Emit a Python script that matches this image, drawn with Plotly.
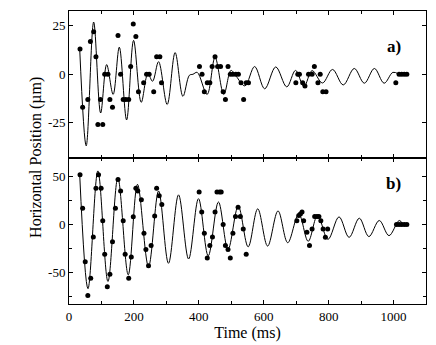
import plotly.graph_objects as go
from plotly.subplots import make_subplots

# panel a) measured horizontal positions (ms, um)
a_dots_t = [34, 42, 58, 66, 76, 83, 89, 97, 104, 110, 120, 126, 134, 151, 159, 167, 175, 184,
            190, 198, 206, 214, 230, 239, 247, 261, 270, 280, 285,
            402, 410, 417, 426, 434, 441, 450, 458, 467, 475, 482, 490, 497, 505, 514, 522,
            530, 538, 546, 553,
            699, 705, 710, 720, 727, 738, 749, 756, 767, 774, 782, 792,
            1007, 1017, 1025, 1033, 1041]
a_dots_y = [13, -17, -13, 17, 22, 9, -26, -13, -26, 0, 0, -13, -17, 20, 0, -13, -13, -13,
            4, 26, 19.5, -9, -4.4, 0, 0, -9, 9, 9, -4.4,
            4, 0, -9, -4.4, -4.4, 4, 9, 4, 4, -9, -13, 4, 0, 0, 0, 0,
            -4.4, -13, -4.4, -4.4,
            -4.4, 0, 0, -4.4, -6, 0, 0, 4, -4.4, 0, -9, -9,
            -4.4, 0, 0, 0, 0]

# panel a) fitted curve, turning points
a_fit_t = [33, 53, 76, 97.5, 116, 136, 155, 177.5, 199, 222.5, 243, 257.5, 276, 302.5, 327,
           351, 371, 382, 395, 425.5, 450, 477, 499, 515, 542, 572, 603, 637, 671, 698, 724,
           749, 781, 812, 845, 879, 910, 941, 971, 998, 1017]
a_fit_y = [13, -37, 27, -20, 5, -10.4, 14, -23.6, 17.5, -14.5, 0.3, -3.6, 6.5, -15.6, 11.2,
           -11.4, -0.5, 0, 1, -10.4, 8.7, -10.4, 2, -1, -6, 4, -7.5, 3.8, -6.5, 2, -6.3,
           1.9, -4.5, 2.5, -5.5, 3, -4.6, 3, -4.6, 1, 0]

# panel b) measured horizontal positions
b_dots_t = [34, 42, 50, 58, 67, 75, 83, 91, 99, 104, 110, 118, 126, 134, 143, 151, 159, 167,
            173, 184, 192, 198, 206, 212, 223, 231, 237, 245, 253, 264, 270, 278, 286,
            401, 409, 417, 426, 434, 442, 450, 456, 464, 469, 475, 482, 490, 497, 505, 513,
            521, 528, 537, 546,
            702, 708, 713, 718, 723, 733, 741, 749, 757, 764, 770, 776, 783, 790, 797,
            1009, 1017, 1025, 1033, 1041]
b_dots_y = [52, 17, -39, -74, -56, -13, 38, 52, 38, 4, -31, -65, -52, -18, 17, 47, 35, 4,
            -31, -56, -34, 8, 38, 35, 26, -9, -26, -43, -22, 9, 38, 30, 21,
            34, 13, -9, -35, -22, -13, 13, 34, 34, 34, 0, -22, -26, -35, -9, 8.5,
            18, 8.5, -4.6, -31,
            4, 9.5, 11, 13, 4, -8, -22, -4.6, 8.5, 8.5, 8.5, 4, -4.6, -13.4, -4.6,
            0, 0, 0, 0, 0]

# panel b) fitted curve, turning points
b_fit_t = [33, 58.5, 89, 120, 150.5, 182.5, 211, 245, 276, 306.5, 337.5, 368.5, 399, 429,
           460.5, 490, 521.5, 552, 581.5, 612, 644, 674, 708, 737, 766, 798, 832, 863,
           894.5, 924, 956, 986, 1017.5, 1030]
b_fit_y = [52, -67, 56, -59.5, 48.7, -52.5, 42, -44, 35, -40.5, 31, -36, 27, -32.7, 23.5,
           -26, 19, -23.3, 16.4, -22.5, 14.2, -19, 11, -17.5, 9.5, -15.5, 8, -13.4, 6.6,
           -12.6, 4.2, -11.6, 4.2, 0]

serif = "Liberation Serif"

fig = make_subplots(rows=2, cols=1, shared_xaxes=True, vertical_spacing=0)

for row, (ft, fy, dt, dy) in enumerate([(a_fit_t, a_fit_y, a_dots_t, a_dots_y),
                                         (b_fit_t, b_fit_y, b_dots_t, b_dots_y)], start=1):
    fig.add_trace(go.Scatter(x=ft, y=fy, mode="lines",
                             line=dict(color="black", width=1, shape="spline", smoothing=1.0)),
                  row=row, col=1)
    fig.add_trace(go.Scatter(x=dt, y=dy, mode="markers",
                             marker=dict(color="black", size=5)),
                  row=row, col=1)

axis_common = dict(showline=True, linecolor="black", linewidth=1, mirror="ticks",
                   ticks="inside", ticklen=4, tickcolor="black", showgrid=False,
                   zeroline=False, tickfont=dict(family=serif, size=13, color="black"))

fig.update_xaxes(**axis_common, range=[0, 1100], dtick=200,
                 minor=dict(dtick=100, ticks="inside", ticklen=3, tickcolor="black"))
fig.update_xaxes(title=dict(text="Time (ms)", font=dict(family=serif, size=16, color="black"),
                            standoff=2),
                 row=2, col=1)

fig.update_yaxes(**axis_common)
fig.update_yaxes(range=[-43, 32.7], tickvals=[-25, 0, 25], ticktext=["-25", "0", "25"],
                 row=1, col=1)
fig.update_yaxes(range=[-83, 70], tickvals=[-50, 0, 50], ticktext=["-50", "0", "50"],
                 minor=dict(tickvals=[-75, -25, 25], ticks="inside", ticklen=3,
                            tickcolor="black"),
                 row=2, col=1)

fig.add_annotation(text="<b>a)</b>", x=0.935, y=0.918, xref="paper", yref="paper",
                   showarrow=False, font=dict(family=serif, size=17, color="black"))
fig.add_annotation(text="<b>b)</b>", x=0.935, y=0.41, xref="paper", yref="paper",
                   showarrow=False, font=dict(family=serif, size=17, color="black"))
fig.add_annotation(text="Horizontal Position (\u00b5m)", textangle=-90, x=-0.125, y=0.5,
                   xref="paper", yref="paper", showarrow=False,
                   font=dict(family=serif, size=16, color="black"))

fig.update_layout(width=436, height=345, margin=dict(l=61, r=18, t=3, b=49),
                  font=dict(family=serif, color="black"),
                  paper_bgcolor="white", plot_bgcolor="white", showlegend=False)

fig.write_html("out.html")
